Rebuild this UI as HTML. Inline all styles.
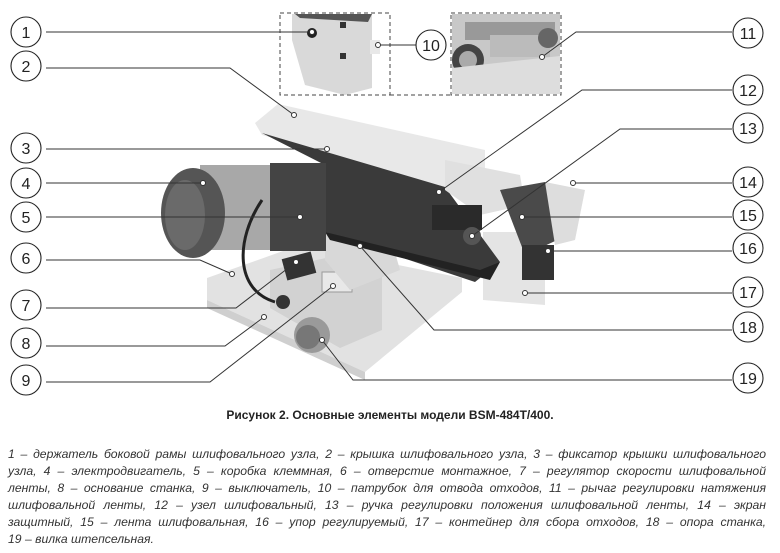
<!DOCTYPE html>
<html><head><meta charset="utf-8"><style>
html,body{margin:0;padding:0;background:#fff;}
body{width:780px;height:553px;position:relative;overflow:hidden;font-family:"Liberation Sans","DejaVu Sans",sans-serif;}
svg{position:absolute;left:0;top:0;}
.title{position:absolute;left:0;width:780px;top:408px;text-align:center;font-weight:bold;font-size:12px;color:#222;}
.leg{position:absolute;left:8px;width:758px;top:446px;font-style:italic;font-size:12.2px;color:#333;line-height:17px;}
.leg div{text-align:justify;text-align-last:justify;white-space:nowrap;}
.leg div.l{text-align-last:left;}
</style></head><body>
<svg width="780" height="400" viewBox="0 0 780 400" xmlns="http://www.w3.org/2000/svg">
<!-- insets -->
<rect x="280" y="13" width="110" height="82" fill="#fff" stroke="#444" stroke-dasharray="4,3"/>
<polygon points="292,14 372,14 372,88 345,95 305,85 292,40" fill="#d9d9d9"/>
<polygon points="295,14 372,14 368,22 300,18" fill="#555"/>
<rect x="370" y="40" width="10" height="14" fill="#e8e8e8"/>
<circle cx="312" cy="33" r="5" fill="#222"/>
<rect x="340" y="22" width="6" height="6" fill="#333"/><rect x="340" y="53" width="6" height="6" fill="#333"/>
<rect x="451" y="13" width="110" height="82" fill="#fff" stroke="#444" stroke-dasharray="4,3"/>
<rect x="452" y="14" width="108" height="80" fill="#c8c8c8"/>
<rect x="465" y="22" width="90" height="18" fill="#999"/>
<rect x="490" y="35" width="60" height="22" fill="#bbb"/>
<circle cx="468" cy="60" r="16" fill="#444"/><circle cx="468" cy="60" r="9" fill="#aaa"/>
<circle cx="548" cy="38" r="10" fill="#666"/>
<polygon points="452,68 560,56 560,94 452,94" fill="#ddd"/>
<line x1="390" y1="95" x2="451" y2="95" stroke="#444" stroke-dasharray="4,3"/>
<!-- machine -->
<polygon points="207,278 300,245 462,278 462,292 365,372 207,300" fill="#e2e2e2"/>
<polygon points="207,300 365,372 365,380 207,308" fill="#cfcfcf"/>
<polygon points="270,270 340,255 382,275 382,330 340,348 270,308" fill="#d2d2d2"/>
<rect x="284" y="255" width="30" height="22" fill="#333" transform="rotate(-15 299 266)"/>
<rect x="322" y="272" width="30" height="20" fill="#e8e8e8" stroke="#999"/>
<polygon points="325,230 390,235 400,270 350,290 325,260" fill="#d8d8d8"/>
<circle cx="312" cy="335" r="18" fill="#9a9a9a"/><circle cx="308" cy="337" r="12" fill="#777"/>
<circle cx="283" cy="302" r="7" fill="#333"/>
<polygon points="483,232 545,232 545,305 483,300" fill="#e4e4e4"/>
<polygon points="255,123 278,104 485,150 485,192 445,187 262,135" fill="#e8e8e8"/>
<polygon points="262,133 445,187 500,262 475,282 325,232 325,165" fill="#3a3a3a"/>
<polygon points="325,232 480,270 500,262 490,280 330,240" fill="#222"/>
<polygon points="445,160 520,175 525,205 480,215 445,190" fill="#e0e0e0"/>
<polygon points="500,190 545,182 568,235 525,255" fill="#4a4a4a"/>
<polygon points="545,182 585,190 575,240 555,245" fill="#ddd"/>
<rect x="522" y="245" width="32" height="35" fill="#333"/>
<rect x="432" y="205" width="50" height="25" fill="#2a2a2a"/>
<circle cx="472" cy="236" r="9" fill="#555"/>
<rect x="200" y="165" width="75" height="85" fill="#a8a8a8"/>
<ellipse cx="193" cy="213" rx="32" ry="45" fill="#555"/>
<ellipse cx="185" cy="215" rx="20" ry="35" fill="#6a6a6a"/>
<rect x="270" y="163" width="56" height="88" fill="#444"/>
<path d="M262,200 C235,240 235,290 275,302" stroke="#222" stroke-width="3" fill="none"/>
<!-- leader lines -->
<g stroke="#333" stroke-width="1" fill="none">
<path d="M46,32 H312"/>
<path d="M46,68 H230 L294,115"/>
<path d="M46,149 H327"/>
<path d="M46,183 H203"/>
<path d="M46,217 H300"/>
<path d="M46,260 H200 L232,274"/>
<path d="M46,308 H236 L296,262"/>
<path d="M46,346 H225 L264,317"/>
<path d="M46,382 H210 L333,286"/>
<path d="M416,45 H378"/>
<path d="M732,32 H576 L542,57"/>
<path d="M732,90 H582 L439,192"/>
<path d="M732,129 H620 L472,236"/>
<path d="M732,183 H573"/>
<path d="M732,217 H522"/>
<path d="M732,251 H548"/>
<path d="M732,293 H525"/>
<path d="M732,330 H434 L360,246"/>
<path d="M732,380 H353 L322,340"/>
</g>
<g fill="#fff" stroke="#333" stroke-width="1">
<circle cx="312" cy="32" r="2.5"/><circle cx="294" cy="115" r="2.5"/><circle cx="327" cy="149" r="2.5"/>
<circle cx="203" cy="183" r="2.5"/><circle cx="300" cy="217" r="2.5"/><circle cx="232" cy="274" r="2.5"/>
<circle cx="296" cy="262" r="2.5"/><circle cx="264" cy="317" r="2.5"/><circle cx="333" cy="286" r="2.5"/>
<circle cx="378" cy="45" r="2.5"/><circle cx="542" cy="57" r="2.5"/><circle cx="439" cy="192" r="2.5"/>
<circle cx="472" cy="236" r="2.5"/><circle cx="573" cy="183" r="2.5"/><circle cx="522" cy="217" r="2.5"/>
<circle cx="548" cy="251" r="2.5"/><circle cx="525" cy="293" r="2.5"/><circle cx="360" cy="246" r="2.5"/>
<circle cx="322" cy="340" r="2.5"/>
</g>
<!-- callout circles -->
<g fill="#fff" stroke="#222" stroke-width="1.1">
<circle cx="26" cy="32" r="15"/><circle cx="26" cy="66" r="15"/><circle cx="26" cy="148" r="15"/>
<circle cx="26" cy="183" r="15"/><circle cx="26" cy="217" r="15"/><circle cx="26" cy="258" r="15"/>
<circle cx="26" cy="305" r="15"/><circle cx="26" cy="343" r="15"/><circle cx="26" cy="380" r="15"/>
<circle cx="431" cy="45" r="15"/>
<circle cx="748" cy="33" r="15"/><circle cx="748" cy="90" r="15"/><circle cx="748" cy="128" r="15"/>
<circle cx="748" cy="182" r="15"/><circle cx="748" cy="215" r="15"/><circle cx="748" cy="248" r="15"/>
<circle cx="748" cy="292" r="15"/><circle cx="748" cy="327" r="15"/><circle cx="748" cy="378" r="15"/>
</g>
<g font-family="Liberation Sans, DejaVu Sans, sans-serif" font-size="16" fill="#222" text-anchor="middle">
<text x="26" y="38">1</text><text x="26" y="72">2</text><text x="26" y="154">3</text>
<text x="26" y="189">4</text><text x="26" y="223">5</text><text x="26" y="264">6</text>
<text x="26" y="311">7</text><text x="26" y="349">8</text><text x="26" y="386">9</text>
<text x="431" y="51">10</text>
<text x="748" y="39">11</text><text x="748" y="96">12</text><text x="748" y="134">13</text>
<text x="748" y="188">14</text><text x="748" y="221">15</text><text x="748" y="254">16</text>
<text x="748" y="298">17</text><text x="748" y="333">18</text><text x="748" y="384">19</text>
</g>
</svg>
<div class="title">Рисунок 2. Основные элементы модели BSM-484T/400.</div>
<div class="leg">
<div>1 – держатель боковой рамы шлифовального узла, 2 – крышка шлифовального узла, 3 – фиксатор крышки шлифовального</div>
<div>узла, 4 – электродвигатель, 5 – коробка клеммная, 6 – отверстие монтажное, 7 – регулятор скорости шлифовальной</div>
<div>ленты, 8 – основание станка, 9 – выключатель, 10 – патрубок для отвода отходов, 11 – рычаг регулировки натяжения</div>
<div>шлифовальной ленты, 12 – узел шлифовальный, 13 – ручка регулировки положения шлифовальной ленты, 14 – экран</div>
<div>защитный, 15 – лента шлифовальная, 16 – упор регулируемый, 17 – контейнер для сбора отходов, 18 – опора станка,</div>
<div class="l">19 – вилка штепсельная.</div>
</div>
</body></html>
